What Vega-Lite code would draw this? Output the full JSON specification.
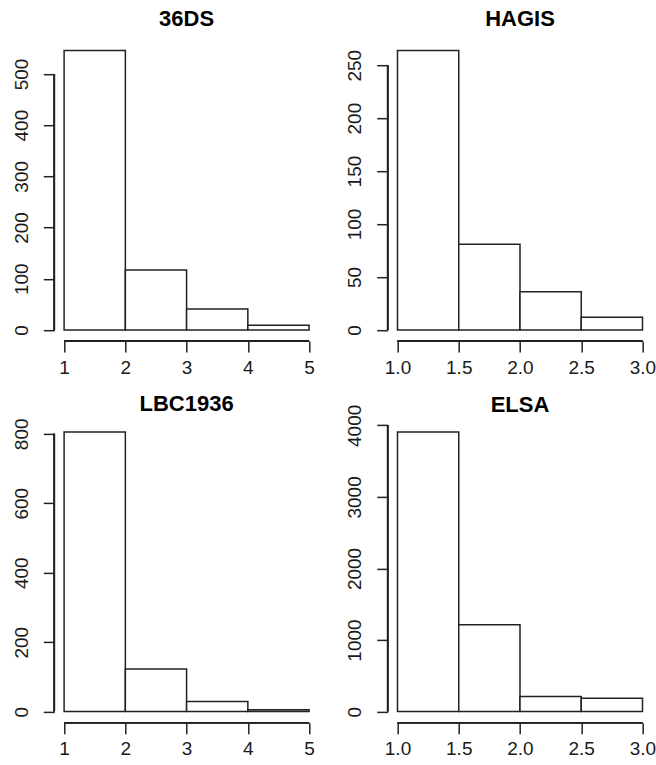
{
  "$schema": "https://vega.github.io/schema/vega-lite/v6.json",
  "background": "white",
  "padding": {"left": 11.3, "top": 8.2, "right": 0, "bottom": 0},
  "bounds": "flush",
  "columns": 2,
  "spacing": {"row": 79.7, "column": 68.4},
  "config": {
    "view": {"stroke": null},
    "axis": {"domain": false, "grid": false, "tickSize": 11, "tickWidth": 1.5, "tickColor": "#222", "labelFont": "Liberation Sans", "labelFontSize": 19, "labelColor": "#1a1a1a", "labelFlush": false, "labelOverlap": false, "labelBound": false},
    "axisLeft": {"labelAngle": -90, "labelAlign": "center", "labelBaseline": "alphabetic", "labelPadding": 16},
    "axisBottom": {"labelAngle": 0, "labelAlign": "center", "labelBaseline": "alphabetic", "labelPadding": 21},
    "title": {"font": "Liberation Sans", "fontSize": 22, "fontWeight": "bold", "color": "#000", "baseline": "alphabetic", "offset": 8, "frame": "group", "anchor": "middle"}
  },
  "concat": [
    {
      "title": {"text": "36DS"},
      "width": 264.6, "height": 301.9,
      "data": {"values": [
        {"start": 1, "end": 2, "count": 546},
        {"start": 2, "end": 3, "count": 117},
        {"start": 3, "end": 4, "count": 41},
        {"start": 4, "end": 5, "count": 9}
      ]},
      "layer": [
        {
          "mark": {"type": "rect", "fill": "white", "stroke": "#222", "strokeWidth": 1.5},
          "encoding": {
            "x": {"field": "start", "type": "quantitative", "scale": {"domain": [0.84, 5.16], "nice": false, "zero": false}, "axis": {"title": null, "values": [1, 2, 3, 4, 5], "format": "d"}},
            "x2": {"field": "end"},
            "y": {"field": "count", "type": "quantitative", "scale": {"domain": [-21.84, 567.84], "nice": false, "zero": false}, "axis": {"title": null, "values": [0, 100, 200, 300, 400, 500], "format": "d"}},
            "y2": {"datum": 0}
          }
        },
        {
          "mark": {"type": "rule", "stroke": "#222", "strokeWidth": 1.5},
          "encoding": {"x": {"datum": 1}, "x2": {"datum": 5}, "y": {"datum": -21.84}}
        },
        {
          "mark": {"type": "rule", "stroke": "#222", "strokeWidth": 1.5},
          "encoding": {"x": {"datum": 0.84}, "y": {"datum": 0}, "y2": {"datum": 500}}
        }
      ]
    },
    {
      "title": {"text": "HAGIS"},
      "width": 264.6, "height": 301.9,
      "data": {"values": [
        {"start": 1.0, "end": 1.5, "count": 264},
        {"start": 1.5, "end": 2.0, "count": 81},
        {"start": 2.0, "end": 2.5, "count": 36},
        {"start": 2.5, "end": 3.0, "count": 12}
      ]},
      "layer": [
        {
          "mark": {"type": "rect", "fill": "white", "stroke": "#222", "strokeWidth": 1.5},
          "encoding": {
            "x": {"field": "start", "type": "quantitative", "scale": {"domain": [0.92, 3.08], "nice": false, "zero": false}, "axis": {"title": null, "values": [1, 1.5, 2, 2.5, 3], "format": ".1f"}},
            "x2": {"field": "end"},
            "y": {"field": "count", "type": "quantitative", "scale": {"domain": [-10.56, 274.56], "nice": false, "zero": false}, "axis": {"title": null, "values": [0, 50, 100, 150, 200, 250], "format": "d"}},
            "y2": {"datum": 0}
          }
        },
        {
          "mark": {"type": "rule", "stroke": "#222", "strokeWidth": 1.5},
          "encoding": {"x": {"datum": 1}, "x2": {"datum": 3}, "y": {"datum": -10.56}}
        },
        {
          "mark": {"type": "rule", "stroke": "#222", "strokeWidth": 1.5},
          "encoding": {"x": {"datum": 0.92}, "y": {"datum": 0}, "y2": {"datum": 250}}
        }
      ]
    },
    {
      "title": {"text": "LBC1936", "dy": 6},
      "width": 264.6, "height": 301.9,
      "data": {"values": [
        {"start": 1, "end": 2, "count": 805},
        {"start": 2, "end": 3, "count": 123},
        {"start": 3, "end": 4, "count": 29},
        {"start": 4, "end": 5, "count": 5}
      ]},
      "layer": [
        {
          "mark": {"type": "rect", "fill": "white", "stroke": "#222", "strokeWidth": 1.5},
          "encoding": {
            "x": {"field": "start", "type": "quantitative", "scale": {"domain": [0.84, 5.16], "nice": false, "zero": false}, "axis": {"title": null, "values": [1, 2, 3, 4, 5], "format": "d"}},
            "x2": {"field": "end"},
            "y": {"field": "count", "type": "quantitative", "scale": {"domain": [-32.2, 837.2], "nice": false, "zero": false}, "axis": {"title": null, "values": [0, 200, 400, 600, 800], "format": "d"}},
            "y2": {"datum": 0}
          }
        },
        {
          "mark": {"type": "rule", "stroke": "#222", "strokeWidth": 1.5},
          "encoding": {"x": {"datum": 1}, "x2": {"datum": 5}, "y": {"datum": -32.2}}
        },
        {
          "mark": {"type": "rule", "stroke": "#222", "strokeWidth": 1.5},
          "encoding": {"x": {"datum": 0.84}, "y": {"datum": 0}, "y2": {"datum": 800}}
        }
      ]
    },
    {
      "title": {"text": "ELSA", "dy": 21},
      "width": 264.6, "height": 301.9,
      "data": {"values": [
        {"start": 1.0, "end": 1.5, "count": 3906},
        {"start": 1.5, "end": 2.0, "count": 1212},
        {"start": 2.0, "end": 2.5, "count": 210},
        {"start": 2.5, "end": 3.0, "count": 186}
      ]},
      "layer": [
        {
          "mark": {"type": "rect", "fill": "white", "stroke": "#222", "strokeWidth": 1.5},
          "encoding": {
            "x": {"field": "start", "type": "quantitative", "scale": {"domain": [0.92, 3.08], "nice": false, "zero": false}, "axis": {"title": null, "values": [1, 1.5, 2, 2.5, 3], "format": ".1f"}},
            "x2": {"field": "end"},
            "y": {"field": "count", "type": "quantitative", "scale": {"domain": [-156.24, 4062.24], "nice": false, "zero": false}, "axis": {"title": null, "values": [0, 1000, 2000, 3000, 4000], "format": "d"}},
            "y2": {"datum": 0}
          }
        },
        {
          "mark": {"type": "rule", "stroke": "#222", "strokeWidth": 1.5},
          "encoding": {"x": {"datum": 1}, "x2": {"datum": 3}, "y": {"datum": -156.24}}
        },
        {
          "mark": {"type": "rule", "stroke": "#222", "strokeWidth": 1.5},
          "encoding": {"x": {"datum": 0.92}, "y": {"datum": 0}, "y2": {"datum": 4000}}
        }
      ]
    }
  ]
}
